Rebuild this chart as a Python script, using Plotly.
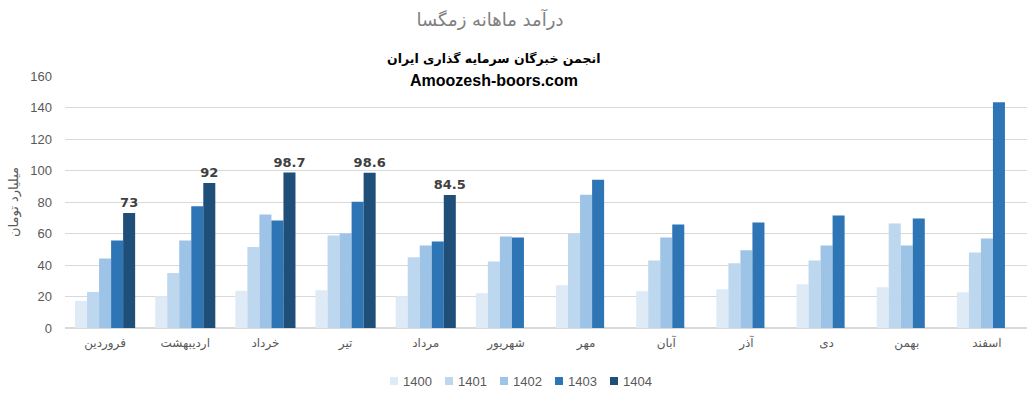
import plotly.graph_objects as go

months = ["فروردین", "اردیبهشت", "خرداد", "تیر", "مرداد", "شهریور",
          "مهر", "آبان", "آذر", "دی", "بهمن", "اسفند"]
years = ["1400", "1401", "1402", "1403", "1404"]
v1400 = [17.2, 20.2, 23.6, 24.0, 20.2, 22.1, 27.2, 23.4, 24.6, 27.8, 25.9, 22.7]
v1401 = [22.9, 34.9, 51.4, 58.7, 44.9, 42.3, 60.0, 42.9, 41.1, 42.9, 66.3, 48.0]
v1402 = [44.2, 55.6, 72.0, 60.0, 52.4, 58.1, 84.6, 57.5, 49.3, 52.4, 52.4, 56.8]
v1403 = [55.6, 77.3, 68.2, 80.2, 55.0, 57.5, 94.1, 65.7, 67.0, 71.4, 69.5, 143.4]
v1404 = [73, 92, 98.7, 98.6, 84.5, None, None, None, None, None, None, None]
series = [v1400, v1401, v1402, v1403, v1404]
colors = ["#DEEBF7", "#BDD7EE", "#9DC3E6", "#2E75B6", "#1F4E79"]

L, R, T, B = 65, 9, 76, 74
W, H = 1036, 402
PW, PH = W - L - R, H - T - B


def px_x(p):
    return (p - L) / PW


def px_y(p):
    return (H - B - p) / PH


fig = go.Figure()
for name, vals, col in zip(years, series, colors):
    kw = {}
    if name == "1404":
        kw = dict(text=[("" if v is None else f"{v:g}") for v in vals],
                  textposition="outside", constraintext="none",
                  textfont=dict(family="DejaVu Sans, Arial", size=13, color="#404040", weight="bold"),
                  cliponaxis=False)
    fig.add_trace(go.Bar(x=months, y=vals, name=name, showlegend=False,
                         marker=dict(color=col, line=dict(width=0)), **kw))

fig.update_layout(
    width=W, height=H,
    margin=dict(l=L, r=R, t=T, b=B, autoexpand=False),
    paper_bgcolor="white", plot_bgcolor="white",
    barmode="group", bargap=0.25, bargroupgap=0,
    font=dict(family="DejaVu Sans, Arial", color="#595959"),
    title=dict(text="درآمد ماهانه زمگسا", x=490/W, xref="container", xanchor="center",
               y=1-20/H, yref="container", yanchor="middle",
               font=dict(size=18, color="#808080", family="DejaVu Sans")),
    showlegend=False,
)
fig.update_yaxes(range=[0, 160], dtick=20, showgrid=True, gridcolor="#d9d9d9", gridwidth=1,
                 zeroline=True, zerolinecolor="#d9d9d9", showline=False, automargin=False,
                 tickfont=dict(size=13, color="#595959", family="Liberation Sans, Arial"),
                 ticks="", ticklabelstandoff=12,
                 title=dict(text="میلیارد تومان", font=dict(size=13, color="#595959", family="DejaVu Sans"), standoff=8))
fig.update_xaxes(showline=True, linecolor="#d9d9d9", ticks="", automargin=False, ticklabelstandoff=4,
                 tickfont=dict(size=12, color="#595959", family="DejaVu Sans"))

fig.add_annotation(text="<b>انجمن خبرگان سرمایه گذاری ایران</b>", xref="paper", yref="paper",
                   x=px_x(493), y=px_y(58), xanchor="center", yanchor="middle",
                   showarrow=False, font=dict(size=12.5, color="black", family="DejaVu Sans"))
fig.add_annotation(text="<b>Amoozesh-boors.com</b>", xref="paper", yref="paper",
                   x=px_x(494), y=px_y(80), xanchor="center", yanchor="middle",
                   showarrow=False, font=dict(size=16, color="black", family="Liberation Sans, Arial"))

# legend built from the series names/colours
leg_x0, leg_step, leg_y = 390, 55, 381
for i, (name, col) in enumerate(zip(years, colors)):
    sx = leg_x0 + i * leg_step
    fig.add_shape(type="rect", xref="paper", yref="paper",
                  x0=px_x(sx), x1=px_x(sx + 8), y0=px_y(leg_y + 4), y1=px_y(leg_y - 4),
                  fillcolor=col, line=dict(width=0))
    fig.add_annotation(text=name, xref="paper", yref="paper", x=px_x(sx + 11), y=px_y(leg_y),
                       xanchor="left", yanchor="middle", showarrow=False,
                       font=dict(size=13, color="#595959", family="Liberation Sans, Arial"))

fig.write_html("out.html", config={"displayModeBar": False},
               post_script="document.body.style.margin='0';")
